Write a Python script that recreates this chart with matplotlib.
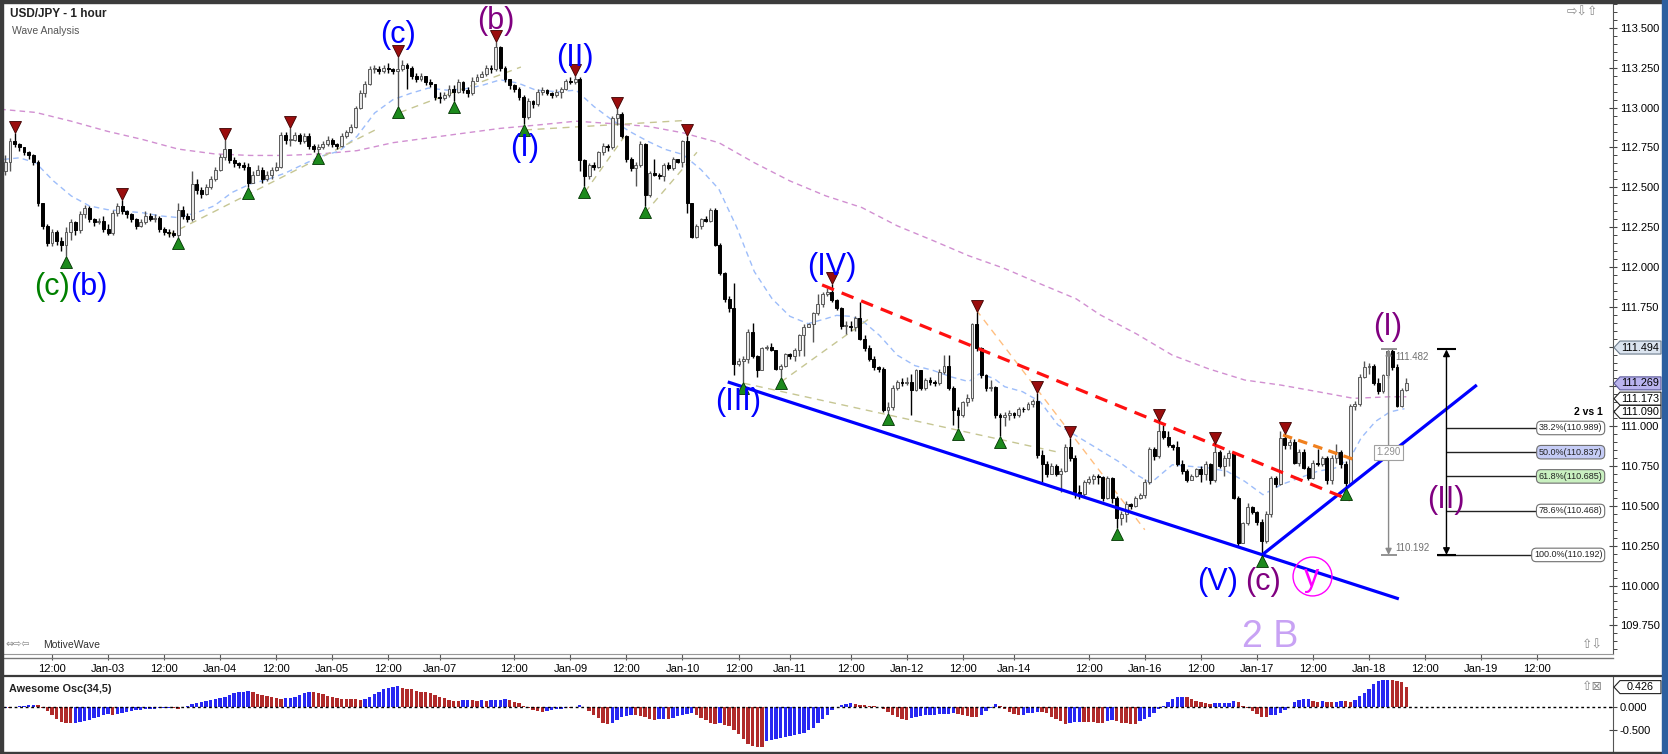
import numpy as np
import matplotlib
matplotlib.use("Agg")
import matplotlib.pyplot as plt
import matplotlib.transforms as mtransforms
from matplotlib.lines import Line2D
from matplotlib.patches import Polygon, Rectangle
from matplotlib.ticker import MultipleLocator

plt.rcParams['font.family'] = ['Liberation Sans', 'DejaVu Sans']

W, H, DPI = 1668, 754, 100

# ---------------- data (hourly bars, index = bar number) ----------------
first_bar = 2
first_open = 112.60
close = [
    112.66, 112.79, 112.77, 112.75, 112.72, 112.70, 112.66, 112.40, 112.26, 112.15,
    112.22, 112.16, 112.14, 112.22, 112.28, 112.23, 112.33, 112.37, 112.30, 112.28,
    112.29, 112.24, 112.21, 112.34, 112.38, 112.35, 112.33, 112.30, 112.26, 112.28,
    112.32, 112.30, 112.31, 112.24, 112.22, 112.21, 112.20, 112.36, 112.32, 112.30,
    112.52, 112.48, 112.46, 112.50, 112.55, 112.61, 112.69, 112.74, 112.67, 112.65,
    112.64, 112.63, 112.53, 112.58, 112.61, 112.55, 112.58, 112.61, 112.63, 112.83,
    112.80, 112.80, 112.83, 112.79, 112.82, 112.76, 112.74, 112.75, 112.77, 112.80,
    112.77, 112.76, 112.82, 112.85, 112.88, 113.00, 113.09, 113.15, 113.24, 113.24,
    113.23, 113.25, 113.24, 113.23, 113.24, 113.27, 113.25, 113.20, 113.18, 113.20,
    113.16, 113.15, 113.07, 113.06, 113.08, 113.12, 113.10, 113.16, 113.11, 113.09,
    113.17, 113.19, 113.21, 113.25, 113.24, 113.38, 113.25, 113.18, 113.14, 113.12,
    113.07, 112.94, 113.04, 113.02, 113.10, 113.11, 113.09, 113.08, 113.10, 113.12,
    113.165, 113.16, 113.18, 112.67, 112.57, 112.64, 112.63, 112.72, 112.76, 112.75,
    112.935, 112.96, 112.82, 112.675, 112.62, 112.64, 112.77, 112.45, 112.59, 112.58,
    112.57, 112.64, 112.62, 112.675, 112.66, 112.79, 112.40, 112.19, 112.255, 112.30,
    112.29, 112.36, 112.14, 111.96, 111.80, 111.74, 111.39, 111.41, 111.425, 111.59,
    111.44, 111.35, 111.49, 111.50, 111.48, 111.36, 111.38, 111.455, 111.44, 111.48,
    111.57, 111.62, 111.64, 111.71, 111.77, 111.83, 111.84, 111.79, 111.74, 111.63,
    111.63, 111.625, 111.68, 111.55, 111.49, 111.425, 111.37, 111.36, 111.10, 111.12,
    111.24, 111.28, 111.27, 111.28, 111.23, 111.35, 111.24, 111.29, 111.28, 111.27,
    111.34, 111.38, 111.24, 111.10, 111.07, 111.15, 111.175, 111.64, 111.49, 111.32,
    111.24, 111.245, 111.07, 111.06, 111.07, 111.08, 111.07, 111.11, 111.105, 111.14,
    111.16, 110.82, 110.76, 110.70, 110.75, 110.70, 110.72, 110.87, 110.80, 110.59,
    110.575, 110.65, 110.67, 110.69, 110.68, 110.55, 110.675, 110.55, 110.425, 110.45,
    110.51, 110.50, 110.55, 110.57, 110.65, 110.86, 110.81, 110.97, 110.93, 110.885,
    110.87, 110.76, 110.72, 110.665, 110.685, 110.73, 110.70, 110.76, 110.66, 110.84,
    110.75, 110.80, 110.83, 110.55, 110.27, 110.39, 110.49, 110.46, 110.40, 110.28,
    110.45, 110.675, 110.64, 110.925, 110.88, 110.90, 110.77, 110.84, 110.74, 110.675,
    110.77, 110.76, 110.80, 110.665, 110.80, 110.84, 110.76, 110.645, 111.13, 111.14,
    111.31, 111.37, 111.38, 111.27, 111.22, 111.32, 111.47, 111.37, 111.13, 111.23, 111.27,
]
high = [
    112.70, 112.81, 112.84, 112.78, 112.75, 112.73, 112.71, 112.67, 112.40, 112.27,
    112.24, 112.23, 112.19, 112.25, 112.30, 112.29, 112.35, 112.39, 112.38, 112.31,
    112.31, 112.32, 112.27, 112.36, 112.40, 112.42, 112.36, 112.34, 112.31, 112.30,
    112.35, 112.34, 112.33, 112.32, 112.25, 112.24, 112.23, 112.40, 112.38, 112.34,
    112.60, 112.55, 112.50, 112.52, 112.57, 112.63, 112.71, 112.80, 112.74, 112.69,
    112.66, 112.66, 112.65, 112.60, 112.64, 112.63, 112.60, 112.63, 112.66, 112.85,
    112.85, 112.87, 112.85, 112.84, 112.84, 112.84, 112.77, 112.77, 112.79, 112.82,
    112.81, 112.78, 112.84, 112.86, 112.90, 113.01, 113.11, 113.17, 113.26, 113.27,
    113.26, 113.27, 113.28, 113.25, 113.32, 113.30, 113.28, 113.26, 113.22, 113.22,
    113.20, 113.18, 113.15, 113.10, 113.10, 113.14, 113.14, 113.18, 113.17, 113.13,
    113.19, 113.21, 113.23, 113.27, 113.27, 113.41, 113.39, 113.26, 113.18, 113.15,
    113.13, 113.08, 113.06, 113.05, 113.12, 113.13, 113.12, 113.10, 113.12, 113.13,
    113.18, 113.19, 113.20, 113.19, 112.68, 112.65, 112.66, 112.73, 112.78, 112.77,
    112.95, 112.99, 112.97, 112.83, 112.69, 112.66, 112.79, 112.78, 112.60, 112.68,
    112.59, 112.65, 112.66, 112.69, 112.68, 112.80, 112.82, 112.40, 112.27, 112.31,
    112.32, 112.37, 112.37, 112.15, 111.97, 111.82, 111.90, 111.43, 111.44, 111.61,
    111.65, 111.45, 111.50, 111.51, 111.52, 111.48, 111.39, 111.46, 111.46, 111.49,
    111.58, 111.64, 111.65, 111.72, 111.83, 111.84, 111.87, 111.89, 111.80, 111.75,
    111.66, 111.66, 111.69, 111.78, 111.57, 111.51, 111.44, 111.38, 111.37, 111.15,
    111.26, 111.29, 111.30, 111.31, 111.33, 111.36, 111.35, 111.30, 111.31, 111.29,
    111.36, 111.45, 111.45, 111.25, 111.12, 111.16, 111.20, 111.65, 111.72, 111.50,
    111.33, 111.29, 111.25, 111.08, 111.09, 111.10, 111.09, 111.12, 111.12, 111.15,
    111.17, 111.21, 110.85, 110.78, 110.77, 110.76, 110.74, 110.89, 110.925, 110.82,
    110.63, 110.66, 110.69, 110.70, 110.70, 110.69, 110.69, 110.68, 110.56, 110.47,
    110.53, 110.52, 110.56, 110.58, 110.67, 110.87, 110.87, 111.03, 111.01, 110.97,
    110.89, 110.91, 110.79, 110.73, 110.70, 110.74, 110.75, 110.78, 110.77, 110.89,
    110.85, 110.82, 110.85, 110.84, 110.56, 110.40, 110.52, 110.50, 110.47, 110.42,
    110.47, 110.69, 110.69, 110.97, 110.95, 110.92, 110.92, 110.86, 110.86, 110.75,
    110.79, 110.86, 110.81, 110.81, 110.82, 110.89, 110.85, 110.78, 111.14, 111.16,
    111.33, 111.41, 111.40, 111.39, 111.30, 111.33, 111.48, 111.482, 111.39, 111.24, 111.30,
]
low = [
    112.58, 112.60, 112.75, 112.73, 112.70, 112.68, 112.64, 112.38, 112.24, 112.13,
    112.13, 112.14, 112.10, 112.07, 112.17, 112.20, 112.21, 112.31, 112.28, 112.26,
    112.27, 112.22, 112.20, 112.20, 112.32, 112.33, 112.31, 112.28, 112.24, 112.25,
    112.27, 112.29, 112.28, 112.22, 112.20, 112.19, 112.19, 112.19, 112.30, 112.28,
    112.29, 112.46, 112.43, 112.45, 112.49, 112.54, 112.60, 112.67, 112.65, 112.63,
    112.62, 112.61, 112.50, 112.53, 112.58, 112.53, 112.54, 112.55, 112.60, 112.62,
    112.77, 112.76, 112.79, 112.77, 112.78, 112.74, 112.72, 112.72, 112.74, 112.76,
    112.75, 112.74, 112.75, 112.81, 112.84, 112.87, 112.99, 113.07, 113.14, 113.22,
    113.21, 113.22, 113.22, 113.21, 113.01, 113.23, 113.12, 113.18, 113.16, 113.17,
    113.14, 113.13, 113.05, 113.03, 113.05, 113.07, 113.04, 113.09, 113.09, 113.07,
    113.08, 113.17, 113.19, 113.20, 113.22, 113.23, 113.23, 113.16, 113.12, 113.10,
    113.05, 112.90, 112.93, 113.00, 113.01, 113.08, 113.08, 113.06, 113.07, 113.06,
    113.11, 113.15, 113.15, 112.60, 112.51, 112.55, 112.61, 112.62, 112.70, 112.73,
    112.74, 112.89, 112.81, 112.66, 112.60, 112.51, 112.63, 112.38, 112.44, 112.57,
    112.55, 112.54, 112.61, 112.61, 112.65, 112.63, 112.34, 112.18, 112.18, 112.24,
    112.28, 112.28, 112.13, 111.95, 111.78, 111.72, 111.32, 111.38, 111.28, 111.40,
    111.43, 111.31, 111.36, 111.48, 111.47, 111.35, 111.31, 111.37, 111.42, 111.41,
    111.44, 111.44, 111.62, 111.53, 111.70, 111.75, 111.82, 111.78, 111.73, 111.61,
    111.58, 111.60, 111.60, 111.54, 111.47, 111.41, 111.35, 111.34, 111.09, 111.08,
    111.10, 111.23, 111.25, 111.26, 111.07, 111.22, 111.23, 111.23, 111.26, 111.25,
    111.26, 111.33, 111.23, 111.01, 110.99, 111.06, 111.13, 111.16, 111.47, 111.30,
    111.22, 111.22, 111.05, 110.94, 111.00, 111.04, 111.05, 111.06, 111.09, 111.10,
    111.12, 110.80, 110.65, 110.68, 110.70, 110.69, 110.59, 110.71, 110.78, 110.55,
    110.54, 110.56, 110.64, 110.64, 110.64, 110.53, 110.54, 110.52, 110.36, 110.38,
    110.40, 110.48, 110.49, 110.54, 110.55, 110.64, 110.79, 110.80, 110.92, 110.87,
    110.85, 110.75, 110.70, 110.65, 110.66, 110.68, 110.65, 110.66, 110.64, 110.65,
    110.74, 110.69, 110.75, 110.54, 110.25, 110.32, 110.38, 110.45, 110.38, 110.19,
    110.27, 110.43, 110.62, 110.63, 110.86, 110.86, 110.76, 110.75, 110.73, 110.66,
    110.67, 110.75, 110.75, 110.64, 110.64, 110.77, 110.74, 110.61, 110.63, 111.10,
    111.13, 111.30, 111.33, 111.26, 111.20, 111.21, 111.30, 111.35, 111.12, 111.12, 111.22,
]

# Awesome Oscillator (34,5) bar values
ao_values = [
    -0.02, -0.02, -0.01, 0.01, 0.02, 0.03, 0.04, 0.035,
    -0.03, -0.10, -0.18, -0.27, -0.33, -0.355, -0.365,
    -0.36, -0.34, -0.31, -0.28, -0.245, -0.215, -0.185, -0.16,
    -0.18,
    -0.15, -0.13, -0.11, -0.095, -0.08, -0.068, -0.058, -0.05, -0.044, -0.038, -0.032, -0.028,
    -0.035, -0.05,
    -0.01, 0.02, 0.05, 0.08, 0.10, 0.12, 0.14, 0.16, 0.19, 0.22, 0.26, 0.30, 0.32, 0.33, 0.335,
    0.33, 0.28, 0.25, 0.23, 0.21, 0.19, 0.175,
    0.18, 0.19, 0.22, 0.26, 0.30, 0.32,
    0.315, 0.30, 0.27, 0.24, 0.21, 0.19, 0.175, 0.17, 0.165, 0.16, 0.155,
    0.16, 0.21, 0.27, 0.32, 0.38, 0.41, 0.43, 0.45,
    0.41, 0.39, 0.38, 0.35, 0.33, 0.31, 0.29, 0.25, 0.22, 0.18, 0.15, 0.13, 0.128,
    0.135, 0.14, 0.135, 0.13, 0.135, 0.13, 0.135, 0.14, 0.145, 0.17,
    0.145, 0.11, 0.09, 0.015, -0.035, -0.07, -0.09, -0.115,
    -0.095, -0.075, -0.06, -0.04, -0.02,
    -0.025,
    -0.01, 0.03,
    0.0, -0.095, -0.19, -0.24, -0.35, -0.385,
    -0.35, -0.29, -0.23, -0.20, -0.18,
    -0.185, -0.20, -0.23, -0.27, -0.28,
    -0.275, -0.27,
    -0.275,
    -0.24, -0.20, -0.19, -0.16, -0.145,
    -0.19, -0.255, -0.29, -0.35, -0.37,
    -0.365,
    -0.40, -0.43, -0.50, -0.60, -0.71, -0.82, -0.86, -0.88, -0.885,
    -0.75, -0.73, -0.71, -0.69, -0.66, -0.64, -0.62, -0.59, -0.565, -0.515, -0.46, -0.35,
    -0.26, -0.17, -0.08, 0.0, 0.03, 0.065, 0.07,
    0.06, 0.045, 0.03, 0.02, 0.007, -0.005, -0.06, -0.115, -0.175, -0.225, -0.275, -0.29,
    -0.255, -0.22, -0.20, -0.19, -0.18, -0.175, -0.165, -0.16, -0.15, -0.14,
    -0.15, -0.175, -0.20, -0.225, -0.23,
    -0.175, -0.095, -0.03, 0.06,
    0.015, -0.06, -0.11, -0.15, -0.19,
    -0.18, -0.145, -0.13, -0.115,
    -0.12, -0.145, -0.22, -0.26, -0.30, -0.37,
    -0.355, -0.33, -0.325,
    -0.33, -0.335, -0.34, -0.35, -0.355,
    -0.31, -0.29,
    -0.32, -0.35, -0.36, -0.38, -0.385,
    -0.31, -0.275, -0.22, -0.145, -0.06, 0.005, 0.10, 0.17, 0.21, 0.215,
    0.21, 0.16, 0.12, 0.10, 0.07, 0.05,
    0.07, 0.075, 0.087, 0.09, 0.13,
    0.11, 0.015, -0.035, -0.095, -0.165, -0.225, -0.23,
    -0.19, -0.185, -0.145, -0.08, 0.0, 0.10, 0.145, 0.165, 0.17,
    0.13, 0.11,
    0.13,
    0.11, 0.105,
    0.11, 0.13,
    0.128, 0.11,
    0.145, 0.23, 0.29, 0.39, 0.49, 0.56, 0.57, 0.575,
    0.57, 0.55, 0.535, 0.426,
]

# moving averages (bar index, price)
pink_ma_x = [0.9, 8.5, 16.1, 23.8, 31.4, 39, 46.7, 54.4, 62, 69.7,
             77.3, 85, 92.6, 100.3, 108, 115.6, 124.2, 131.8, 139.5, 147.1,
             154.8, 162.4, 170, 177.7, 185.4, 193, 200.7, 208.3, 216, 223.6,
             231.3, 236.4, 244.2, 251.9, 259.7, 267.4, 275.2, 283, 290.7, 298.5, 302]
pink_ma_y = [112.99, 112.97, 112.915, 112.852, 112.80, 112.74, 112.71, 112.70, 112.70, 112.71,
             112.73, 112.78, 112.81, 112.84, 112.87, 112.89, 112.915, 112.90, 112.883, 112.842,
             112.78, 112.654, 112.54, 112.446, 112.373, 112.258, 112.165, 112.07, 111.99, 111.894,
             111.80, 111.70, 111.58, 111.446, 111.36, 111.29, 111.258, 111.217, 111.175, 111.185, 111.185]
blue_ma_x = [1.6, 5, 8.5, 12.3, 16.1, 20, 23.8, 27.6, 31.4, 35.3,
             39, 42.9, 46.7, 50.5, 54.4, 58.2, 62, 65.8, 69.7, 73.5,
             77.3, 81.1, 85, 88.8, 92.6, 96.5, 100.3, 104.1, 108, 111.8,
             115.6, 120.3, 124.2, 128, 131.8, 135.6, 139.5, 143.3, 147.1, 151,
             154.8, 158.6, 162.4, 166.2, 170, 173.9, 177.7, 180, 183, 185.4,
             189.2, 193, 196.8, 200.7, 204.5, 208.3, 210.6, 213.7, 216, 219.8,
             223.6, 227.4, 231.3, 235.1, 240.3, 244.2, 247.3, 251.9, 255.8, 259.7,
             263.6, 267.4, 271.3, 275.2, 279.1, 283, 286.8, 290, 292.3, 295.4,
             298.5, 301.6]
blue_ma_y = [112.675, 112.685, 112.654, 112.54, 112.446, 112.383, 112.36, 112.35, 112.34, 112.32,
             112.31, 112.34, 112.383, 112.467, 112.52, 112.55, 112.59, 112.644, 112.696, 112.727,
             112.82, 112.967, 113.05, 113.09, 113.123, 113.11, 113.117, 113.14, 113.175, 113.154,
             113.11, 113.10, 113.11, 113.008, 112.925, 112.852, 112.79, 112.738, 112.706, 112.61,
             112.488, 112.25, 111.97, 111.80, 111.69, 111.644, 111.675, 111.696, 111.69, 111.665,
             111.57, 111.446, 111.38, 111.35, 111.31, 111.28, 111.33, 111.30, 111.248, 111.217,
             111.154, 111.008, 110.94, 110.873, 110.78, 110.696, 110.644, 110.758, 110.748, 110.738,
             110.717, 110.654, 110.57, 110.633, 110.675, 110.717, 110.738, 110.80, 110.925, 111.03,
             111.09, 111.11]

tick_pos = [12, 24, 36, 48, 60, 72, 84, 95, 111, 123, 135, 147, 159, 170, 183, 195,
            207, 218, 234, 246, 258, 270, 282, 294, 306, 318, 330]
tick_labels = ['12:00', 'Jan-03', '12:00', 'Jan-04', '12:00', 'Jan-05', '12:00', 'Jan-07',
               '12:00', 'Jan-09', '12:00', 'Jan-10', '12:00', 'Jan-11', '12:00', 'Jan-12',
               '12:00', 'Jan-14', '12:00', 'Jan-16', '12:00', 'Jan-17', '12:00', 'Jan-18',
               '12:00', 'Jan-19', '12:00']
price_ticks = [109.75, 110.0, 110.25, 110.5, 110.75, 111.0, 111.25, 111.5, 111.75,
               112.0, 112.25, 112.5, 112.75, 113.0, 113.25, 113.5]
hidden_price_labels = [111.25, 111.5]   # covered by the price tags

red_pivots = [4, 27, 49, 63, 86, 107, 124, 133, 148, 179, 210, 223, 230, 249, 261, 276]
green_pivots = [15, 39, 54, 69, 86, 98, 113, 126, 139, 160, 168, 191, 206, 215, 240, 271, 289]

# wave labels: text, bar, price, colour
wave_labels = [
    ('(c)', 86.1, 113.456, '#0000ff'),
    ('(b)', 107.1, 113.544, '#800080'),
    ('(II)', 124.0, 113.312, '#0000ff'),
    ('(I)', 113.1, 112.747, '#0000ff'),
    ('(III)', 158.9, 111.152, '#0000ff'),
    ('(IV)', 179.0, 112.0, '#0000ff'),
    ('(V)', 261.5, 110.022, '#0000ff'),
    ('(c)', 271.3, 110.022, '#800080'),
    ('(I)', 298.1, 111.623, '#800080'),
    ('(II)', 310.5, 110.537, '#800080'),
]

# trend lines (bar0, price0, bar1, price1)
channel_low = (156.7, 111.278, 300.4, 109.916)
rising_line = (271.1, 110.192, 317.1, 111.259)
red_dashed = (176.9, 111.887, 289.9, 110.537)
orange_dashed = (275.6, 110.945, 291.1, 110.788)
tan_lines = [
    (36.8, 112.20, 81.2, 112.86),
    (86.5, 112.97, 112.4, 113.255),
    (113.3, 112.86, 147.8, 112.92),
    (126.1, 112.47, 134.5, 112.816),
    (139.0, 112.34, 150.1, 112.72),
    (160.1, 111.27, 227.0, 110.84),
    (168.1, 111.278, 187.2, 111.68),
]
light_orange_line = (209.9, 111.73, 246.0, 110.35)

fib_top = 111.482
fib_bottom = 110.192
fib_ratios = ['38.2%', '50.0%', '61.8%', '78.6%', '100.0%']
fib_values = [110.989, 110.837, 110.685, 110.468, 110.192]
fib_fills = ['white', '#c5ccf6', '#c9f0c0', 'white', 'white']

axis_tags = [(111.494, '#dbe4ef', '#6d7d8d'), (111.269, '#b9b3ee', '#5c5a9a'),
             (111.173, 'white', '#222222'), (111.090, 'white', '#222222')]
ao_tag = 0.426

# ---------------- layout ----------------
fig = plt.figure(figsize=(W / DPI, H / DPI), dpi=DPI)
fig.patch.set_facecolor('white')


def fx(px):
    return px / W


def fy(py):
    return 1 - py / H


AX_L, AX_R = 3, 1613
ax = fig.add_axes([fx(AX_L), fy(654), fx(AX_R) - fx(AX_L), fy(3) - fy(654)])
ax_ao = fig.add_axes([fx(AX_L), fy(751), fx(AX_R) - fx(AX_L), fy(677) - fy(751)])


def axfrac(px):
    return (px - AX_L) / (AX_R - AX_L)


XMIN, XMAX = 1.5, 346.26
P_TOP, P_BOT = 113.657, 109.57
PPU_MAIN = 159.3
AO_TOP, AO_BOT = 0.6457, -0.963
PPU_AO = 46.0

for a in (ax, ax_ao):
    a.set_xlim(XMIN, XMAX)
    a.set_facecolor('white')
    a.spines['left'].set_visible(False)
    a.spines['top'].set_visible(False)
    a.spines['right'].set_color('#555555')
    a.yaxis.tick_right()
ax.set_ylim(P_BOT, P_TOP)
ax_ao.set_ylim(AO_BOT, AO_TOP)
ax.spines['bottom'].set_color('#999999')
ax_ao.spines['bottom'].set_visible(False)

# ---------------- candles ----------------
n = min(len(close), len(high), len(low))
c = np.array(close[:n])
hi = np.array(high[:n])
lo = np.array(low[:n])
o = np.r_[first_open, c[:-1]]  # hourly FX candles open at the prior close
x = np.arange(n) + first_bar
up = c >= o
body_lo = np.minimum(o, c)
body_h = np.maximum(np.abs(c - o), 0.006)
wick_hi = np.maximum(hi, np.maximum(o, c))
wick_lo = np.minimum(lo, np.minimum(o, c))

ax.plot(pink_ma_x, pink_ma_y, color='#d18fd1', lw=1.0, dashes=(4, 3), zorder=2)
ax.plot(blue_ma_x, blue_ma_y, color='#9dbdfa', lw=1.0, dashes=(4, 3), zorder=2)
for (x0, y0, x1, y1) in tan_lines:
    ax.plot([x0, x1], [y0, y1], color='#c6c693', lw=1.0, dashes=(5, 4), zorder=2.5)
ax.plot(light_orange_line[0::2], light_orange_line[1::2], color='#ffbf80', lw=1.0,
        dashes=(5, 4), zorder=2.5)

ax.vlines(x, wick_lo, wick_hi, colors=np.where(up, '#555555', '#000000'), lw=1.0, zorder=3)
ax.bar(x, body_h, bottom=body_lo, width=0.62,
       color=np.where(up, '#e6e6e6', '#000000'),
       edgecolor=np.where(up, '#5a5a5a', '#000000'), linewidth=0.7, zorder=4)

# trend lines
ax.plot(channel_low[0::2], channel_low[1::2], color='#0000ff', lw=2.3, zorder=5,
        solid_capstyle='butt')
ax.plot(rising_line[0::2], rising_line[1::2], color='#0000ff', lw=2.3, zorder=5,
        solid_capstyle='butt')
ax.plot(red_dashed[0::2], red_dashed[1::2], color='#ff1010', lw=2.3, dashes=(4, 2.6), zorder=5)
ax.plot(orange_dashed[0::2], orange_dashed[1::2], color='#f0801e', lw=2.3, dashes=(3, 2),
        zorder=5)

# pivot markers
off_up = mtransforms.offset_copy(ax.transData, fig=fig, x=0, y=6, units='dots')
off_dn = mtransforms.offset_copy(ax.transData, fig=fig, x=0, y=-6, units='dots')
ri = [k - first_bar for k in red_pivots if 0 <= k - first_bar < n]
gi = [k - first_bar for k in green_pivots if 0 <= k - first_bar < n]
ax.plot(x[ri], wick_hi[ri], 'v', transform=off_up, ms=8, mfc='#9a0d0d', mec='#3d0000',
        mew=0.6, zorder=6, ls='none')
ax.plot(x[gi], wick_lo[gi], '^', transform=off_dn, ms=8, mfc='#1d8a1d', mec='#003300',
        mew=0.6, zorder=6, ls='none')

# wave labels
for (t, k, p, col) in wave_labels:
    ax.text(k, p, t, color=col, fontsize=22, ha='center', va='center', zorder=7)
ax.text(15.85, 111.874, '(c)', color='#008000', fontsize=22, ha='right', va='center', zorder=7)
ax.text(15.85, 111.874, '(b)', color='#0000ff', fontsize=22, ha='left', va='center', zorder=7)
ax.text(281.8, 110.05, 'y', color='#ff00ff', fontsize=22, ha='center', va='center', zorder=7)
ax.plot([281.8], [110.06], 'o', ms=28, mfc='none', mec='#ff00ff', mew=1.0, zorder=7)
ax.text(272.8, 109.677, '2 B', color='#c8a2f4', fontsize=27, ha='center', va='center', zorder=7)

# grey measuring tool
gk = 298.2
ax.annotate('', xy=(gk, fib_top), xytext=(gk, fib_bottom),
            arrowprops=dict(arrowstyle='<|-|>', color='#8a8a8a', lw=1.0, shrinkA=0, shrinkB=0,
                            mutation_scale=9), zorder=6)
ax.hlines([fib_top, fib_bottom], 296.6, 300.0, color='#8a8a8a', lw=1.3, zorder=6)
ax.annotate(f'{fib_top:.3f}', xy=(299.6, fib_top), xytext=(0, -8), textcoords='offset pixels',
            fontsize=7, color='#707070', va='center', ha='left', zorder=7)
ax.annotate(f'{fib_bottom:.3f}', xy=(299.6, fib_bottom), xytext=(0, 7), textcoords='offset pixels',
            fontsize=7, color='#707070', va='center', ha='left', zorder=7)
ax.text(gk, (fib_top + fib_bottom) / 2, f'{fib_top - fib_bottom:.3f}', fontsize=7, color='#909090',
        ha='center', va='center', zorder=7,
        bbox=dict(boxstyle='square,pad=0.25', fc='white', ec='#a0a0a0', lw=0.8))

# fibonacci retracement
fk = 310.6
for i, (r, v, fc) in enumerate(zip(fib_ratios, fib_values, fib_fills)):
    x_start = 308.6 if i == len(fib_values) - 1 else fk
    ax.hlines(v, x_start, 333, color='#222222', lw=1.0, zorder=6)
    ax.text(344.0, v, f'{r}({v:.3f})', fontsize=6.5, ha='right', va='center', color='#222222',
            zorder=9, bbox=dict(boxstyle='round,pad=0.25,rounding_size=0.5', fc=fc,
                                ec='#707070', lw=0.8))
ax.annotate('', xy=(fk, fib_top), xytext=(fk, fib_bottom),
            arrowprops=dict(arrowstyle='<|-|>', color='black', lw=1.0, shrinkA=0, shrinkB=0,
                            mutation_scale=10), zorder=6)
ax.hlines([fib_top], 308.6, 312.6, color='black', lw=1.5, zorder=6)
ax.hlines([fib_bottom], 308.6, 312.6, color='black', lw=1.5, zorder=6)
ax.text(344.0, 111.09, '2 vs 1', fontsize=7.5, fontweight='bold', ha='right', va='center',
        zorder=9)

# ---------------- axes ticks ----------------
ax.set_yticks(price_ticks)
ax.set_yticklabels(['' if v in hidden_price_labels else f'{v:.3f}' for v in price_ticks])
ax.yaxis.set_minor_locator(MultipleLocator(0.05))
ax.tick_params(axis='y', which='major', direction='inout', length=6, width=0.8,
               color='#444444', labelsize=8, pad=2)
ax.tick_params(axis='y', which='minor', direction='out', length=3, width=0.7, color='#444444')
ax.set_xticks(tick_pos)
ax.set_xticklabels(tick_labels)
ax.tick_params(axis='x', direction='out', length=4, width=0.8, color='#555555', labelsize=8,
               pad=3)

ax_ao.set_xticks([])
ax_ao.set_yticks([0.0, -0.5])
ax_ao.set_yticklabels(['0.000', '-0.500'])
ax_ao.tick_params(axis='y', direction='inout', length=6, width=0.8, color='#444444',
                  labelsize=8, pad=2)


def axis_tag(a, y, txt, fc, ec, ppu):
    h = 6.5 / ppu
    xs = [axfrac(1614), axfrac(1620), axfrac(1661), axfrac(1661), axfrac(1620)]
    ys = [y, y + h, y + h, y - h, y - h]
    tr = a.get_yaxis_transform()
    a.add_patch(Polygon(np.c_[xs, ys], closed=True, transform=tr, fc=fc, ec=ec, lw=0.8,
                        clip_on=False, zorder=10))
    a.text(axfrac(1640.5), y, txt, transform=tr, ha='center', va='center', fontsize=7.8,
           clip_on=False, zorder=11)


for (v, fc, ec) in axis_tags:
    axis_tag(ax, v, f'{v:.3f}', fc, ec, PPU_MAIN)

# ---------------- awesome oscillator ----------------
ao = np.array(ao_values)
xa = np.arange(len(ao)) + first_bar
prev = np.r_[ao[0] - 1.0, ao[:-1]]
ao_cols = np.where(ao > prev, '#2828f2', '#b02a2a')
ax_ao.bar(xa, ao, width=0.72, color=ao_cols, linewidth=0, zorder=3)
ax_ao.axhline(0, color='black', lw=1.0, dashes=(2, 2), zorder=4)
axis_tag(ax_ao, ao_tag, f'{ao_tag:.3f}', 'white', '#222222', PPU_AO)

# ---------------- frame, texts, icons ----------------
fig.add_artist(Line2D([fx(AX_L), fx(AX_R)], [fy(658), fy(658)], color='#777777', lw=1.0))
fig.add_artist(Line2D([0, fx(1662)], [fy(675.5), fy(675.5)], color='#3a3a3a', lw=1.6))
fig.add_artist(Rectangle((0, 0), fx(3), 1, transform=fig.transFigure, color='#3c3c3c', zorder=20))
fig.add_artist(Rectangle((0, fy(2.5)), 1, 2.5 / H, transform=fig.transFigure, color='#3c3c3c',
                         zorder=20))
fig.add_artist(Rectangle((0, 0), 1, 2.5 / H, transform=fig.transFigure, color='#3c3c3c',
                         zorder=20))
fig.add_artist(Rectangle((fx(1662), 0), 6 / W, 1, transform=fig.transFigure, color='#2d5f9f',
                         zorder=20))

fig.text(fx(10), fy(14), 'USD/JPY - 1 hour', fontsize=8.5, fontweight='bold', color='#222222',
         va='center', ha='left')
fig.text(fx(12), fy(31), 'Wave Analysis', fontsize=7.5, color='#555555', va='center', ha='left')
fig.text(fx(9), fy(689), 'Awesome Osc(34,5)', fontsize=7.8, fontweight='bold', color='#222222',
         va='center', ha='left')
fig.text(fx(5), fy(645), '⇔⇨⇦', fontsize=7, color='#888888', va='center', ha='left',
         family='DejaVu Sans')
fig.text(fx(43), fy(645), 'MotiveWave', fontsize=7.5, color='#333333', va='center', ha='left')
fig.text(fx(1567), fy(12), '⇨⇩⇧', fontsize=9, color='#888888', va='center', ha='left',
         family='DejaVu Sans')
fig.text(fx(1582), fy(645), '⇧⇩', fontsize=9, color='#888888', va='center', ha='left',
         family='DejaVu Sans')
fig.text(fx(1582), fy(686), '⇧⊠', fontsize=9, color='#888888', va='center', ha='left',
         family='DejaVu Sans')

fig.savefig('out.png', dpi=DPI)
